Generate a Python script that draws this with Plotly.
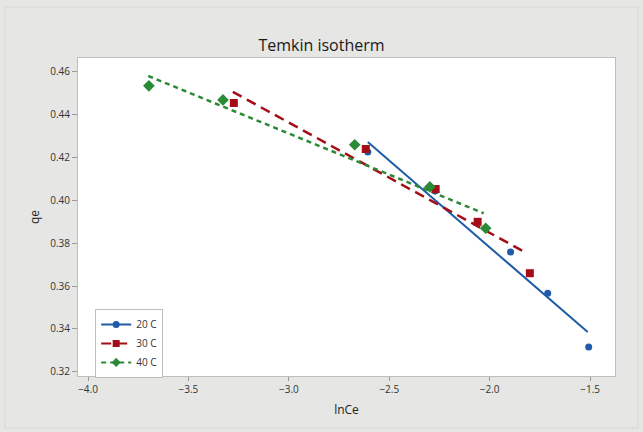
import plotly.graph_objects as go

# Data points (lnCe, qe)
ln_ce_20 = [-2.607, -2.27, -1.896, -1.711, -1.507]
qe_20 = [0.4226, 0.4045, 0.3759, 0.3567, 0.3315]
ln_ce_30 = [-3.274, -2.617, -2.269, -2.060, -1.800]
qe_30 = [0.4455, 0.4240, 0.4053, 0.3900, 0.3660]
ln_ce_40 = [-3.697, -3.328, -2.672, -2.298, -2.020]
qe_40 = [0.4535, 0.4469, 0.4260, 0.4063, 0.3870]

# Fitted line end points
fit_x_20 = [-2.607, -1.512]
fit_y_20 = [0.4273, 0.3385]
fit_x_30 = [-3.279, -1.826]
fit_y_30 = [0.4507, 0.3759]
fit_x_40 = [-3.700, -2.030]
fit_y_40 = [0.4581, 0.3940]

series_names = ["20 C", "30 C", "40 C"]
x_ticks = [-4.0, -3.5, -3.0, -2.5, -2.0, -1.5]
y_ticks = [0.32, 0.34, 0.36, 0.38, 0.40, 0.42, 0.44, 0.46]

BLUE = "#1f5ba8"
RED = "#a50d16"
GREEN = "#2b8a35"

styles = [
    dict(color=BLUE, dash="solid", width=2, symbol="circle", size=7),
    dict(color=RED, dash="10px,6px", width=2.5, symbol="square", size=8),
    dict(color=GREEN, dash="5px,4px", width=2.5, symbol="diamond", size=9),
]
data = [
    (ln_ce_20, qe_20, fit_x_20, fit_y_20),
    (ln_ce_30, qe_30, fit_x_30, fit_y_30),
    (ln_ce_40, qe_40, fit_x_40, fit_y_40),
]

fig = go.Figure()
for name, st, (xs, ys, fx, fy) in zip(series_names, styles, data):
    fig.add_trace(go.Scatter(x=fx, y=fy, mode="lines", showlegend=False,
                             line=dict(color=st["color"], dash=st["dash"], width=st["width"]),
                             hoverinfo="skip"))
for name, st, (xs, ys, fx, fy) in zip(series_names, styles, data):
    fig.add_trace(go.Scatter(x=xs, y=ys, mode="markers", showlegend=False, name=name,
                             marker=dict(color=st["color"], symbol=st["symbol"], size=st["size"])))
for name, st, (xs, ys, fx, fy) in zip(series_names, styles, data):
    fig.add_trace(go.Scatter(x=[None], y=[None], mode="lines+markers", name=name,
                             line=dict(color=st["color"], dash=st["dash"], width=2),
                             marker=dict(color=st["color"], symbol=st["symbol"], size=7)))

FONT = "Open Sans"
fig.update_layout(
    width=643, height=432,
    margin=dict(l=78, r=28, t=58, b=56),
    paper_bgcolor="#e6e6e4",
    plot_bgcolor="#ffffff",
    font=dict(family=FONT, size=10, color="#333333"),
    title=dict(text="Temkin isotherm", x=0.5, xanchor="center", y=0.896, yanchor="middle",
               font=dict(family=FONT, size=16, color="#1a1a1a")),
    xaxis=dict(range=[-4.05, -1.376], tickvals=x_ticks, tickformat=".1f",
               showgrid=False, zeroline=False, showline=True, linecolor="#bdbdbd", linewidth=1,
               mirror=True, ticks="outside", ticklen=4, tickcolor="#9a9a9a",
               title=dict(text="lnCe", font=dict(size=12, color="#222222"), standoff=10)),
    yaxis=dict(range=[0.318, 0.4665], tickvals=y_ticks, tickformat=".2f",
               showgrid=False, zeroline=False, showline=True, linecolor="#bdbdbd", linewidth=1,
               mirror=True, ticks="outside", ticklen=5, tickcolor="#9a9a9a",
               title=dict(text="qe", font=dict(size=12, color="#222222"), standoff=8)),
    legend=dict(x=0.032, y=0.211, xanchor="left", yanchor="top",
                bgcolor="#ffffff", bordercolor="#bdbdbd", borderwidth=1,
                font=dict(size=10, color="#333333"), tracegroupgap=0, itemwidth=30),
    shapes=[dict(type="rect", xref="paper", yref="paper",
                 x0=-73/537, x1=1 + 23/537, y0=-52/318, y1=1 + 51/318,
                 line=dict(color="#d6d6d4", width=1), fillcolor="rgba(0,0,0,0)", layer="below")],
)

fig.write_html("out.html")
